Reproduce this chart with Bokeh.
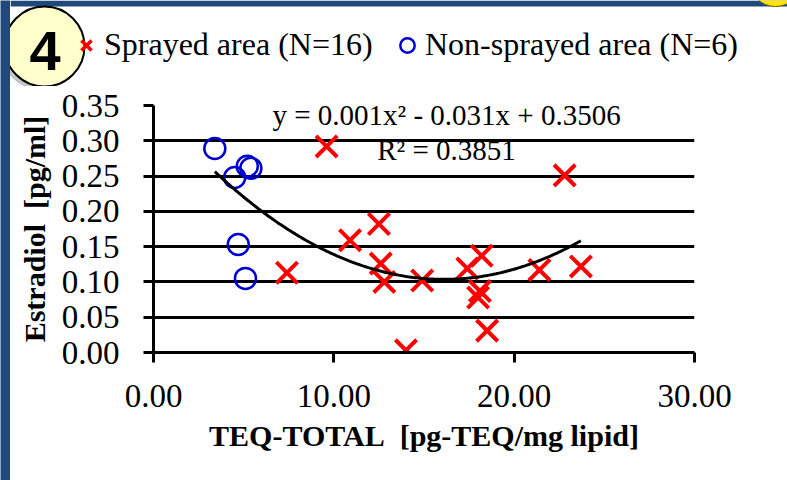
import numpy as np
from bokeh.plotting import figure
from bokeh.layouts import column, row
from bokeh.models import (Range1d, FixedTicker, PrintfTickFormatter, Legend, LegendItem, Label)
from bokeh.core.properties import value
from bokeh.embed import file_html
from bokeh.resources import INLINE

# ---- data ----
sprayed_x = [9.6, 7.4, 10.9, 12.5, 12.6, 12.8, 14.9, 14.0, 17.4, 18.2, 18.0, 18.1, 18.5, 21.4, 23.7, 22.8]
sprayed_y = [0.292, 0.113, 0.159, 0.182, 0.126, 0.100, 0.102, 0.003, 0.119, 0.137, 0.078, 0.087, 0.031, 0.117, 0.122, 0.251]
nonsprayed_x = [3.4, 4.5, 5.2, 5.4, 4.7, 5.1]
nonsprayed_y = [0.289, 0.248, 0.264, 0.261, 0.153, 0.105]
x_ticks = [0, 10, 20, 30]
y_ticks = [0.0, 0.05, 0.10, 0.15, 0.20, 0.25, 0.30, 0.35]
label_sprayed = "Sprayed area (N=16)"
label_non = "Non-sprayed area (N=6)"
eq_text = "y = 0.001x\u00b2 - 0.031x + 0.3506"
r2_text = "R\u00b2 = 0.3851"
x_title = "TEQ-TOTAL\u00a0 [pg-TEQ/mg lipid]"
y_title = "Estradiol\u00a0 [pg/ml]"
badge_text = "4"

SERIF = "Liberation Serif"
RED = "#FF0000"
BLUE = "#0000D0"
SLIDE_BLUE = "#1F497D"
STRIP_W = 10
W = 787 - STRIP_W
H = 480
HEAD_H = 86


def no_align(fig):
    if "frame_align" in fig.properties():
        fig.frame_align = False


# ---------------- slide frame strip on the left ----------------
strip = figure(width=STRIP_W, height=H, frame_width=STRIP_W, frame_height=H,
               output_backend="svg", toolbar_location=None,
               x_axis_location=None, y_axis_location=None, min_border=0,
               min_border_left=0, min_border_right=0, min_border_top=0, min_border_bottom=0)
strip.grid.visible = False
strip.outline_line_color = None
strip.background_fill_color = SLIDE_BLUE
strip.border_fill_color = SLIDE_BLUE
no_align(strip)

# ---------------- header strip: legend + slide badge ----------------
head = figure(width=W, height=HEAD_H, frame_width=W, frame_height=HEAD_H,
              output_backend="svg", toolbar_location=None,
              x_range=Range1d(0, W), y_range=Range1d(HEAD_H, 0),
              x_axis_location=None, y_axis_location=None, min_border=0,
              min_border_left=0, min_border_right=0, min_border_top=0, min_border_bottom=0)
head.grid.visible = False
head.outline_line_color = None
head.background_fill_color = "white"
head.border_fill_color = "white"
no_align(head)

# top edge of the slide frame
head.quad(left=[0], right=[W], top=[0], bottom=[6], fill_color=SLIDE_BLUE, line_color=None)
head.scatter([765], [-20], marker="circle", size=52, fill_color="#FFE600",
             line_color="#7F6000", line_width=1)

# legend proxies (no visible points of their own)
leg_spr = head.scatter([np.nan], [np.nan], marker="x", size=17, line_color=RED, line_width=3.5)
leg_non = head.scatter([np.nan], [np.nan], marker="circle", size=14, fill_color=None,
                       line_color=BLUE, line_width=2.5)


def make_legend(item_label, renderer, loc):
    lg = Legend(items=[LegendItem(label=item_label, renderers=[renderer])], location=loc,
                orientation="horizontal", padding=0, margin=0, spacing=0,
                glyph_width=36, glyph_height=36, label_standoff=0,
                label_text_font=SERIF, label_text_font_size="32px", label_text_color="black",
                border_line_color=None, background_fill_alpha=0)
    head.add_layout(lg, "center")


make_legend(label_sprayed, leg_spr, (58, 23))
make_legend(label_non, leg_non, (379, 23))

# badge (drawn over the legend, as in the slide)
shadow = head.scatter([30.5], [49.5], marker="circle", size=80, fill_color="#7F7F7F",
                      fill_alpha=0.45, line_color=None)
disc = head.scatter([34], [46], marker="circle", size=80, fill_color="#FFFFCC",
                    line_color="black", line_width=2)
num = head.text([34.5], [50], text=[badge_text], text_align="center",
                text_baseline="middle", text_font=value("Liberation Sans"),
                text_font_style="bold", text_font_size="56px", text_color="black")
for r in (shadow, disc, num):
    r.level = "overlay"

# ---------------- main chart ----------------
p_main = figure(width=W, height=H - HEAD_H, output_backend="svg", toolbar_location=None,
                x_range=Range1d(0, 30), y_range=Range1d(0, 0.35),
                min_border_left=143, min_border_right=93,
                min_border_top=105 - HEAD_H, min_border_bottom=128)
p_main.outline_line_color = None
p_main.background_fill_color = "white"
p_main.border_fill_color = "white"
no_align(p_main)

p_main.xgrid.visible = False
p_main.ygrid.ticker = FixedTicker(ticks=y_ticks)
p_main.ygrid.grid_line_color = "black"
p_main.ygrid.grid_line_width = 3

for ax in (p_main.xaxis[0], p_main.yaxis[0]):
    ax.axis_line_color = "black"
    ax.axis_line_width = 3
    ax.major_tick_line_color = "black"
    ax.major_tick_line_width = 3
    ax.major_tick_out = 10
    ax.major_tick_in = 0
    ax.minor_tick_line_color = None
    ax.major_label_text_font = SERIF
    ax.major_label_text_font_size = "33px"
    ax.major_label_text_color = "black"
    ax.axis_label_text_font = SERIF
    ax.axis_label_text_font_size = "30px"
    ax.axis_label_text_font_style = "bold"
    ax.axis_label_text_color = "black"

p_main.xaxis.ticker = FixedTicker(ticks=x_ticks)
p_main.xaxis.formatter = PrintfTickFormatter(format="%.2f")
p_main.xaxis.major_label_standoff = 22
p_main.xaxis.axis_label = x_title
p_main.xaxis.axis_label_standoff = 9

p_main.yaxis.ticker = FixedTicker(ticks=y_ticks)
p_main.yaxis.formatter = PrintfTickFormatter(format="%.2f")
p_main.yaxis.major_label_standoff = 24
p_main.yaxis.axis_label = y_title
p_main.yaxis.axis_label_standoff = 8

p_main.scatter(nonsprayed_x, nonsprayed_y, marker="circle", size=21,
               fill_color=None, line_color=BLUE, line_width=2.5)
p_main.scatter(sprayed_x, sprayed_y, marker="x", size=30, line_color=RED, line_width=4)

# polynomial (order 2) trendline fitted on all points
all_x = np.array(sprayed_x + nonsprayed_x)
all_y = np.array(sprayed_y + nonsprayed_y)
coef = np.polyfit(all_x, all_y, 2)
xs = np.linspace(all_x.min(), all_x.max(), 200)
p_main.line(xs, np.polyval(coef, xs), line_color="black", line_width=3)

p_main.add_layout(Label(x=16.25, y=0.336, text=eq_text, text_align="center",
                        text_baseline="middle", text_font=SERIF, text_font_size="29px",
                        text_color="black"))
p_main.add_layout(Label(x=16.25, y=0.287, text=r2_text, text_align="center",
                        text_baseline="middle", text_font=SERIF, text_font_size="29px",
                        text_color="black"))

p = row(strip, column(head, p_main, spacing=0), spacing=0)
open("out.html", "w").write(file_html(p, INLINE))
